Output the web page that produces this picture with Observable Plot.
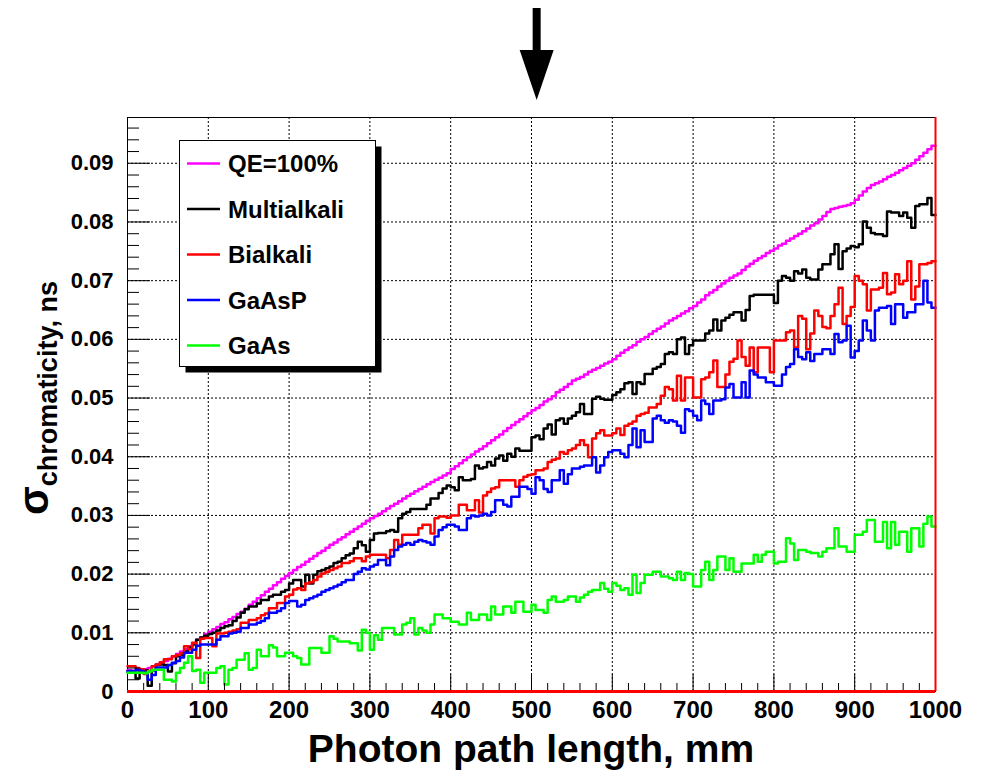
<!DOCTYPE html>
<html>
<head>
<meta charset="utf-8">
<script src="https://cdn.jsdelivr.net/npm/d3@7"></script>
<script src="https://cdn.jsdelivr.net/npm/@observablehq/plot@0.6"></script>
<style>
  html, body { margin: 0; padding: 0; background: #fff; }
  #chart { width: 984px; height: 773px; }
</style>
</head>
<body>
<div id="chart"></div>
<script>
// Histogram bins: 200 bins of 5 mm over 0..1000 mm
const binWidth = 5;

// Chromatic time spread (ns) per bin, one array per photocathode
const qe100 = [
  0.0036, 0.0035, 0.0034, 0.0036, 0.0038, 0.0040, 0.0043, 0.0046, 0.0049, 0.0052,
  0.0056, 0.0060, 0.0064, 0.0068, 0.0072, 0.0077, 0.0082, 0.0088, 0.0092, 0.0098,
  0.0102, 0.0106, 0.0110, 0.0115, 0.0118, 0.0123, 0.0127, 0.0132, 0.0136, 0.0141,
  0.0148, 0.0153, 0.0159, 0.0164, 0.0170, 0.0175, 0.0181, 0.0186, 0.0192, 0.0197,
  0.0202, 0.0207, 0.0212, 0.0216, 0.0221, 0.0226, 0.0231, 0.0236, 0.0240, 0.0245,
  0.0250, 0.0254, 0.0259, 0.0263, 0.0268, 0.0272, 0.0277, 0.0281, 0.0286, 0.0291,
  0.0295, 0.0299, 0.0303, 0.0307, 0.0312, 0.0316, 0.0320, 0.0324, 0.0329, 0.0333,
  0.0337, 0.0341, 0.0345, 0.0349, 0.0353, 0.0357, 0.0361, 0.0364, 0.0368, 0.0372,
  0.0379, 0.0384, 0.0389, 0.0394, 0.0399, 0.0404, 0.0409, 0.0413, 0.0418, 0.0423,
  0.0428, 0.0433, 0.0438, 0.0444, 0.0449, 0.0454, 0.0459, 0.0464, 0.0469, 0.0474,
  0.0479, 0.0483, 0.0488, 0.0494, 0.0498, 0.0503, 0.0510, 0.0514, 0.0519, 0.0524,
  0.0530, 0.0533, 0.0536, 0.0540, 0.0545, 0.0548, 0.0551, 0.0555, 0.0559, 0.0562,
  0.0566, 0.0572, 0.0577, 0.0582, 0.0586, 0.0590, 0.0596, 0.0600, 0.0604, 0.0609,
  0.0614, 0.0618, 0.0622, 0.0627, 0.0632, 0.0636, 0.0640, 0.0644, 0.0648, 0.0653,
  0.0657, 0.0663, 0.0668, 0.0675, 0.0680, 0.0684, 0.0690, 0.0695, 0.0700, 0.0705,
  0.0709, 0.0712, 0.0718, 0.0724, 0.0729, 0.0734, 0.0738, 0.0742, 0.0747, 0.0751,
  0.0755, 0.0760, 0.0763, 0.0768, 0.0772, 0.0776, 0.0780, 0.0784, 0.0789, 0.0794,
  0.0798, 0.0804, 0.0810, 0.0817, 0.0822, 0.0824, 0.0826, 0.0827, 0.0829, 0.0832,
  0.0838, 0.0845, 0.0852, 0.0858, 0.0863, 0.0866, 0.0869, 0.0873, 0.0877, 0.0880,
  0.0884, 0.0888, 0.0892, 0.0896, 0.0900, 0.0906, 0.0912, 0.0918, 0.0924, 0.0930
];

const multialkali = [
  0.0033, 0.0032, 0.0022, 0.0035, 0.0036, 0.0010, 0.0036, 0.0045, 0.0046, 0.0045,
  0.0034, 0.0048, 0.0060, 0.0062, 0.0068, 0.0075, 0.0080, 0.0088, 0.0092, 0.0095,
  0.0098, 0.0100, 0.0104, 0.0108, 0.0111, 0.0113, 0.0120, 0.0126, 0.0134, 0.0140,
  0.0145, 0.0145, 0.0150, 0.0156, 0.0156, 0.0162, 0.0165, 0.0165, 0.0170, 0.0173,
  0.0184, 0.0190, 0.0190, 0.0179, 0.0199, 0.0184, 0.0199, 0.0205, 0.0207, 0.0210,
  0.0213, 0.0219, 0.0221, 0.0227, 0.0232, 0.0235, 0.0244, 0.0255, 0.0249, 0.0238,
  0.0258, 0.0269, 0.0270, 0.0270, 0.0273, 0.0275, 0.0272, 0.0295, 0.0303, 0.0306,
  0.0311, 0.0311, 0.0311, 0.0311, 0.0318, 0.0329, 0.0329, 0.0338, 0.0346, 0.0351,
  0.0348, 0.0343, 0.0365, 0.0360, 0.0360, 0.0362, 0.0385, 0.0380, 0.0382, 0.0391,
  0.0385, 0.0397, 0.0402, 0.0393, 0.0405, 0.0400, 0.0414, 0.0410, 0.0410, 0.0410,
  0.0433, 0.0436, 0.0430, 0.0448, 0.0455, 0.0438, 0.0462, 0.0465, 0.0456, 0.0465,
  0.0470, 0.0476, 0.0490, 0.0473, 0.0473, 0.0499, 0.0502, 0.0499, 0.0497, 0.0497,
  0.0505, 0.0510, 0.0515, 0.0525, 0.0527, 0.0507, 0.0527, 0.0524, 0.0541, 0.0541,
  0.0550, 0.0553, 0.0558, 0.0575, 0.0578, 0.0575, 0.0600, 0.0603, 0.0575, 0.0590,
  0.0598, 0.0598, 0.0598, 0.0610, 0.0615, 0.0634, 0.0615, 0.0632, 0.0637, 0.0642,
  0.0646, 0.0646, 0.0632, 0.0650, 0.0674, 0.0676, 0.0676, 0.0676, 0.0676, 0.0676,
  0.0662, 0.0700, 0.0708, 0.0705, 0.0700, 0.0716, 0.0712, 0.0719, 0.0705, 0.0702,
  0.0702, 0.0719, 0.0728, 0.0728, 0.0745, 0.0762, 0.0720, 0.0750, 0.0755, 0.0759,
  0.0757, 0.0762, 0.0801, 0.0790, 0.0781, 0.0779, 0.0779, 0.0776, 0.0818, 0.0816,
  0.0816, 0.0810, 0.0816, 0.0807, 0.0790, 0.0827, 0.0830, 0.0830, 0.0841, 0.0812
];

const bialkali = [
  0.0043, 0.0043, 0.0040, 0.0038, 0.0030, 0.0035, 0.0043, 0.0046, 0.0050, 0.0055,
  0.0055, 0.0060, 0.0062, 0.0065, 0.0077, 0.0072, 0.0083, 0.0057, 0.0090, 0.0091,
  0.0091, 0.0077, 0.0099, 0.0099, 0.0100, 0.0102, 0.0104, 0.0106, 0.0117, 0.0117,
  0.0122, 0.0122, 0.0125, 0.0130, 0.0133, 0.0142, 0.0142, 0.0151, 0.0151, 0.0162,
  0.0165, 0.0174, 0.0176, 0.0173, 0.0184, 0.0186, 0.0190, 0.0196, 0.0201, 0.0204,
  0.0207, 0.0210, 0.0213, 0.0219, 0.0219, 0.0222, 0.0227, 0.0227, 0.0222, 0.0230,
  0.0233, 0.0233, 0.0233, 0.0233, 0.0227, 0.0241, 0.0258, 0.0250, 0.0267, 0.0267,
  0.0267, 0.0267, 0.0278, 0.0284, 0.0284, 0.0269, 0.0295, 0.0298, 0.0298, 0.0296,
  0.0300, 0.0300, 0.0318, 0.0318, 0.0309, 0.0309, 0.0326, 0.0305, 0.0334, 0.0340,
  0.0346, 0.0348, 0.0360, 0.0360, 0.0360, 0.0360, 0.0349, 0.0360, 0.0366, 0.0369,
  0.0370, 0.0377, 0.0377, 0.0380, 0.0391, 0.0395, 0.0397, 0.0408, 0.0405, 0.0411,
  0.0414, 0.0420, 0.0428, 0.0420, 0.0399, 0.0431, 0.0440, 0.0445, 0.0436, 0.0436,
  0.0440, 0.0448, 0.0437, 0.0453, 0.0456, 0.0460, 0.0470, 0.0473, 0.0475, 0.0484,
  0.0484, 0.0490, 0.0504, 0.0519, 0.0515, 0.0496, 0.0538, 0.0496, 0.0535, 0.0535,
  0.0501, 0.0501, 0.0532, 0.0535, 0.0544, 0.0564, 0.0519, 0.0519, 0.0540, 0.0562,
  0.0567, 0.0598, 0.0570, 0.0555, 0.0586, 0.0544, 0.0586, 0.0586, 0.0586, 0.0544,
  0.0598, 0.0598, 0.0598, 0.0612, 0.0615, 0.0586, 0.0640, 0.0635, 0.0583, 0.0610,
  0.0649, 0.0640, 0.0621, 0.0619, 0.0640, 0.0660, 0.0688, 0.0626, 0.0640, 0.0655,
  0.0708, 0.0700, 0.0694, 0.0649, 0.0685, 0.0685, 0.0688, 0.0713, 0.0677, 0.0680,
  0.0711, 0.0694, 0.0700, 0.0733, 0.0668, 0.0690, 0.0728, 0.0728, 0.0730, 0.0733
];

const gaasp = [
  0.0035, 0.0035, 0.0037, 0.0035, 0.0032, 0.0020, 0.0028, 0.0041, 0.0041, 0.0041,
  0.0045, 0.0049, 0.0052, 0.0058, 0.0066, 0.0066, 0.0071, 0.0078, 0.0080, 0.0080,
  0.0080, 0.0080, 0.0088, 0.0094, 0.0094, 0.0099, 0.0100, 0.0102, 0.0108, 0.0108,
  0.0114, 0.0114, 0.0117, 0.0120, 0.0125, 0.0134, 0.0134, 0.0137, 0.0142, 0.0151,
  0.0154, 0.0154, 0.0145, 0.0148, 0.0156, 0.0159, 0.0162, 0.0165, 0.0170, 0.0173,
  0.0176, 0.0179, 0.0182, 0.0186, 0.0190, 0.0190, 0.0200, 0.0204, 0.0210, 0.0208,
  0.0213, 0.0216, 0.0224, 0.0224, 0.0215, 0.0230, 0.0241, 0.0247, 0.0250, 0.0253,
  0.0250, 0.0255, 0.0258, 0.0256, 0.0254, 0.0250, 0.0264, 0.0275, 0.0280, 0.0284,
  0.0284, 0.0281, 0.0275, 0.0275, 0.0295, 0.0300, 0.0298, 0.0300, 0.0303, 0.0300,
  0.0306, 0.0326, 0.0326, 0.0318, 0.0315, 0.0332, 0.0332, 0.0349, 0.0349, 0.0345,
  0.0337, 0.0365, 0.0360, 0.0345, 0.0340, 0.0360, 0.0360, 0.0377, 0.0354, 0.0370,
  0.0380, 0.0380, 0.0383, 0.0385, 0.0385, 0.0399, 0.0373, 0.0385, 0.0399, 0.0408,
  0.0411, 0.0411, 0.0405, 0.0399, 0.0420, 0.0448, 0.0416, 0.0445, 0.0425, 0.0425,
  0.0465, 0.0470, 0.0462, 0.0458, 0.0462, 0.0460, 0.0453, 0.0441, 0.0481, 0.0478,
  0.0470, 0.0462, 0.0496, 0.0490, 0.0473, 0.0496, 0.0496, 0.0498, 0.0518, 0.0524,
  0.0501, 0.0501, 0.0527, 0.0501, 0.0547, 0.0540, 0.0535, 0.0535, 0.0527, 0.0527,
  0.0521, 0.0521, 0.0540, 0.0553, 0.0558, 0.0583, 0.0570, 0.0566, 0.0578, 0.0563,
  0.0575, 0.0575, 0.0583, 0.0583, 0.0575, 0.0609, 0.0595, 0.0598, 0.0623, 0.0569,
  0.0580, 0.0598, 0.0632, 0.0615, 0.0598, 0.0649, 0.0654, 0.0654, 0.0657, 0.0626,
  0.0660, 0.0660, 0.0637, 0.0646, 0.0646, 0.0660, 0.0660, 0.0700, 0.0663, 0.0654
];

const gaas = [
  0.0032, 0.0032, 0.0032, 0.0032, 0.0031, 0.0034, 0.0037, 0.0037, 0.0037, 0.0020,
  0.0020, 0.0017, 0.0032, 0.0040, 0.0049, 0.0060, 0.0035, 0.0037, 0.0015, 0.0032,
  0.0032, 0.0032, 0.0040, 0.0043, 0.0012, 0.0037, 0.0040, 0.0054, 0.0054, 0.0065,
  0.0037, 0.0040, 0.0071, 0.0060, 0.0060, 0.0079, 0.0075, 0.0060, 0.0060, 0.0066,
  0.0066, 0.0060, 0.0057, 0.0046, 0.0046, 0.0074, 0.0074, 0.0074, 0.0066, 0.0066,
  0.0094, 0.0090, 0.0085, 0.0085, 0.0085, 0.0082, 0.0082, 0.0070, 0.0105, 0.0100,
  0.0071, 0.0096, 0.0088, 0.0108, 0.0108, 0.0108, 0.0097, 0.0097, 0.0114, 0.0117,
  0.0125, 0.0097, 0.0108, 0.0104, 0.0100, 0.0114, 0.0131, 0.0131, 0.0125, 0.0125,
  0.0119, 0.0119, 0.0114, 0.0114, 0.0134, 0.0122, 0.0122, 0.0131, 0.0131, 0.0122,
  0.0145, 0.0131, 0.0131, 0.0145, 0.0145, 0.0134, 0.0153, 0.0153, 0.0136, 0.0136,
  0.0148, 0.0139, 0.0139, 0.0134, 0.0156, 0.0162, 0.0153, 0.0153, 0.0156, 0.0162,
  0.0162, 0.0153, 0.0160, 0.0165, 0.0170, 0.0173, 0.0173, 0.0185, 0.0175, 0.0170,
  0.0185, 0.0180, 0.0173, 0.0176, 0.0165, 0.0199, 0.0168, 0.0185, 0.0199, 0.0199,
  0.0204, 0.0204, 0.0196, 0.0196, 0.0193, 0.0190, 0.0204, 0.0190, 0.0202, 0.0200,
  0.0179, 0.0179, 0.0207, 0.0221, 0.0190, 0.0207, 0.0230, 0.0230, 0.0207, 0.0227,
  0.0204, 0.0204, 0.0218, 0.0218, 0.0218, 0.0233, 0.0221, 0.0233, 0.0238, 0.0238,
  0.0218, 0.0221, 0.0221, 0.0261, 0.0252, 0.0224, 0.0241, 0.0241, 0.0238, 0.0236,
  0.0236, 0.0230, 0.0238, 0.0244, 0.0244, 0.0278, 0.0247, 0.0247, 0.0238, 0.0238,
  0.0267, 0.0267, 0.0272, 0.0292, 0.0292, 0.0255, 0.0255, 0.0289, 0.0244, 0.0289,
  0.0250, 0.0272, 0.0272, 0.0238, 0.0278, 0.0278, 0.0247, 0.0286, 0.0298, 0.0281
];

const seriesNames = ["QE=100%", "Multialkali", "Bialkali", "GaAsP", "GaAs"];
const seriesColors = ["#ff00ff", "#000000", "#ff0000", "#0000ff", "#00ff00"];
const seriesValues = [qe100, multialkali, bialkali, gaasp, gaas];

// Axis ticks and labels
const xTicks = [0, 100, 200, 300, 400, 500, 600, 700, 800, 900, 1000];
const yTicks = [0, 0.01, 0.02, 0.03, 0.04, 0.05, 0.06, 0.07, 0.08, 0.09];
const yMax = 0.0978;
const xTitle = "Photon path length, mm";
const yTitleSymbol = "σ";
const yTitleSub = "chromaticity, ns";

// Path length marked by the arrow above the frame
const arrowAt = 507;

const FONT = '"Liberation Sans", Arial, Helvetica, sans-serif';
const W = 984, H = 773;
const M = {left: 127, right: 49, top: 117, bottom: 82};
const frameW = W - M.left - M.right;
const frameH = H - M.top - M.bottom;

// Step outline points: one per bin edge, plus the closing edge at the end
const rows = seriesNames.flatMap((name, s) => {
  const v = seriesValues[s];
  const pts = v.map((y, i) => ({name, x: i * binWidth, y}));
  pts.push({name, x: v.length * binWidth, y: v[v.length - 1]});
  return pts;
});

const xMinor = d3.range(0, 1001, 20).filter(d => d % 100 !== 0);
const yMinor = d3.range(0, yMax, 0.002).filter(d => Math.abs(d / 0.01 - Math.round(d / 0.01)) > 1e-6);

const chart = Plot.plot({
  width: W,
  height: H,
  marginLeft: M.left,
  marginRight: M.right,
  marginTop: M.top,
  marginBottom: M.bottom,
  style: {fontFamily: FONT, fontWeight: "bold", color: "#000", background: "#fff"},
  x: {domain: [0, 1000]},
  y: {domain: [0, yMax]},
  color: {domain: seriesNames, range: seriesColors},
  marks: [
    Plot.gridX(xTicks.slice(1, -1), {stroke: "#000", strokeOpacity: 1, strokeWidth: 1, strokeDasharray: "2,2"}),
    Plot.gridY(yTicks.slice(1), {stroke: "#000", strokeOpacity: 1, strokeWidth: 1, strokeDasharray: "2,2"}),
    Plot.frame({stroke: "#000", strokeWidth: 1}),
    Plot.line(rows, {x: "x", y: "y", z: "name", stroke: "name", curve: "step-after", strokeWidth: 2.5}),
    // inward tick marks
    Plot.tickY(yTicks, {y: d => d, stroke: "#000", strokeWidth: 1, insetRight: frameW - 23}),
    Plot.tickY(yMinor, {y: d => d, stroke: "#000", strokeWidth: 1, insetRight: frameW - 12}),
    Plot.tickX(xTicks, {x: d => d, stroke: "#000", strokeWidth: 1, insetTop: frameH - 17}),
    Plot.tickX(xMinor, {x: d => d, stroke: "#000", strokeWidth: 1, insetTop: frameH - 8}),
    Plot.ruleX([1000], {stroke: "#ff0000", strokeWidth: 2}),
    Plot.ruleY([0], {stroke: "#ff0000", strokeWidth: 3}),
    Plot.axisX({ticks: xTicks, tickSize: 0, tickPadding: 9, fontSize: 24, fontWeight: "bold", label: null, tickFormat: d3.format("d")}),
    Plot.axisY({ticks: yTicks, tickSize: 0, tickPadding: 14, fontSize: 22, fontWeight: "bold", label: null,
      tickFormat: d => d === 0 ? "0" : d3.format(".2f")(d)})
  ]
});

document.getElementById("chart").appendChild(chart);

const svg = d3.select(chart);
const xs = chart.scale("x");

// Axis titles
svg.append("text")
  .attr("x", M.left + frameW / 2).attr("y", 762)
  .attr("text-anchor", "middle")
  .attr("font-family", FONT).attr("font-weight", "bold").attr("font-size", 39)
  .attr("fill", "#000")
  .text(xTitle);

const yt = svg.append("text")
  .attr("transform", `translate(48, ${M.top + frameH / 2 - 6}) rotate(-90)`)
  .attr("text-anchor", "middle")
  .attr("font-family", FONT).attr("font-weight", "bold")
  .attr("fill", "#000");
yt.append("tspan").attr("font-size", 42).text(yTitleSymbol);
yt.append("tspan").attr("font-size", 27).attr("dy", 9).text(yTitleSub);

// Arrow marking the path length of interest
const ax = xs.apply(arrowAt);
svg.append("rect").attr("x", ax - 4).attr("y", 8).attr("width", 8).attr("height", 43).attr("fill", "#000");
svg.append("path")
  .attr("d", `M${ax - 17},50 L${ax + 17},50 L${ax},100 Z`)
  .attr("fill", "#000");

// Legend box with drop shadow
const L = {x: 179.5, y: 140.5, w: 196, h: 226, shadow: 6};
const lg = svg.append("g").attr("text-anchor", "start");
lg.append("rect").attr("x", L.x + L.shadow).attr("y", L.y + L.shadow)
  .attr("width", L.w).attr("height", L.h).attr("fill", "#000");
lg.append("rect").attr("x", L.x).attr("y", L.y)
  .attr("width", L.w).attr("height", L.h).attr("fill", "#fff").attr("stroke", "#000").attr("stroke-width", 1);
seriesNames.forEach((name, i) => {
  const cy = 163.5 + i * 45.5;
  lg.append("line")
    .attr("x1", 187).attr("x2", 220).attr("y1", cy).attr("y2", cy)
    .attr("stroke", seriesColors[i]).attr("stroke-width", 2.5);
  lg.append("text")
    .attr("x", 228).attr("y", cy).attr("dy", "0.36em")
    .attr("text-anchor", "start")
    .attr("font-family", FONT).attr("font-weight", "bold").attr("font-size", 24)
    .attr("fill", "#000")
    .text(name);
});
</script>
</body>
</html>
